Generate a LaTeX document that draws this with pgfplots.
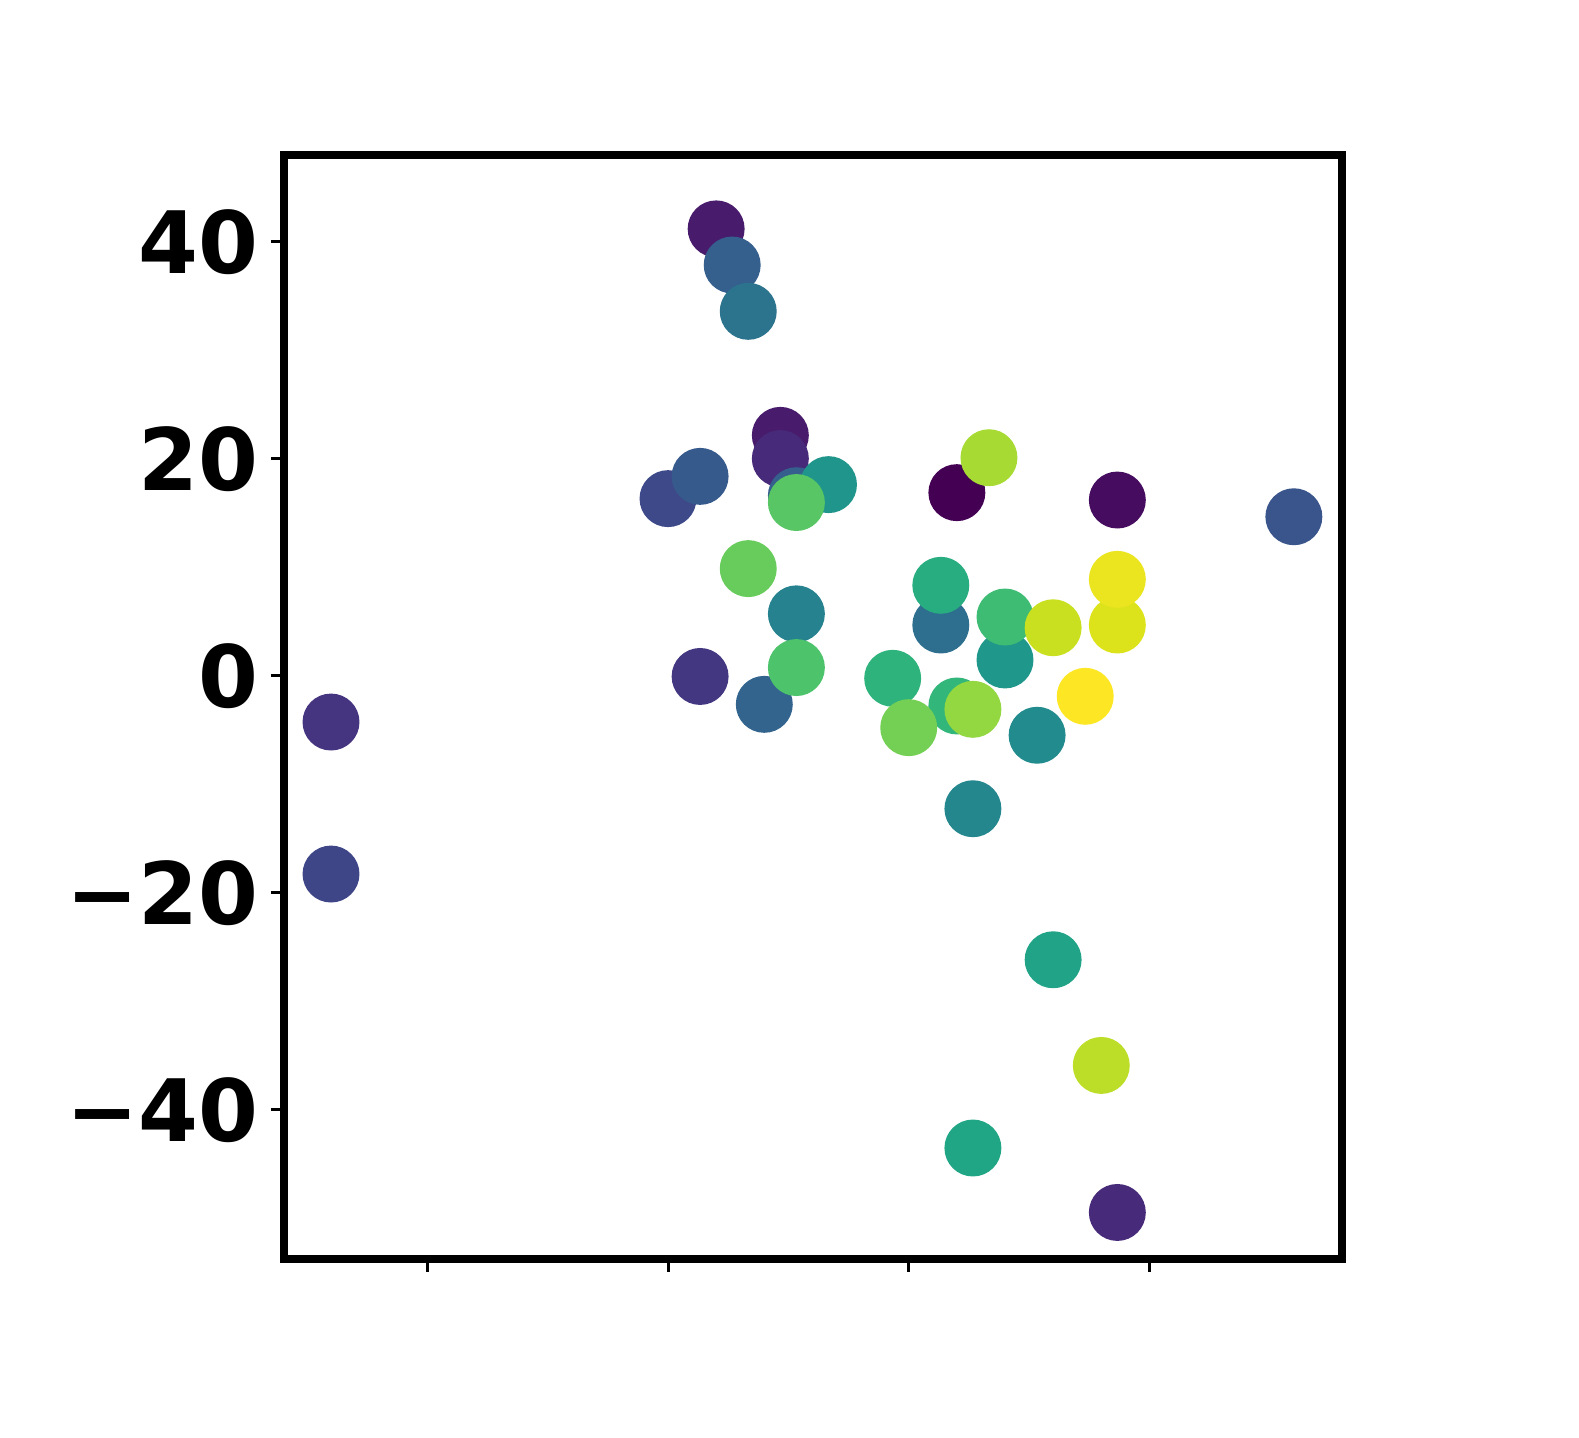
\documentclass[border=0pt]{standalone}
\usepackage{fontspec}
\setmainfont{DejaVu Sans}
\usepackage{pgfplots}
\pgfplotsset{compat=1.18}

\begin{document}
\begin{tikzpicture}
\begin{axis}[
  at={(0,0)}, anchor=south west,
  scale only axis, width=10.58cm, height=11.04cm,
  xmin=-8.93, xmax=57.0, ymin=-53.75, ymax=48.0,
  axis line style={line width=2pt},
  tick align=outside, xtick pos=left, ytick pos=left,
  major tick length=3.7pt,
  every tick/.style={black, line width=0.85pt},
  xtick={0,15,30,45}, xticklabels={,,,},
  ytick={-40,-20,0,20,40}, yticklabels={−40,−20,0,20,40},
  yticklabel style={font=\fontsize{24.5}{29}\selectfont\bfseries, inner sep=0pt, xshift=-3.3pt},
  colormap/viridis,
  point meta min=0, point meta max=1,
]
% x y colour value (viridis 0..1), in drawing order
\addplot[scatter, only marks, mark=*, mark size=7.9pt, scatter src=explicit,
  scatter/use mapped color={draw=mapped color, fill=mapped color}]
  table[meta=c] {
x y c
18 41.19 0.07
19 37.86 0.30
20 33.59 0.38
22 22.16 0.07
22 20.02 0.12
15 16.33 0.22
17 18.38 0.28
23 16.60 0.30
25 17.62 0.52
23 15.97 0.74
20 9.88 0.77
23 5.71 0.44
17 -0.06 0.16
21 -2.63 0.32
23 0.76 0.72
-6 -4.26 0.15
-6 -18.27 0.21
33 16.88 0.00
35 20.10 0.87
43 16.20 0.03
54 14.66 0.26
32 4.68 0.36
32 8.34 0.62
36 1.46 0.53
36 5.42 0.69
39 4.43 0.92
43 4.68 0.95
43 8.89 0.97
29 -0.23 0.65
33 -2.78 0.66
30 -4.78 0.79
34 -3.09 0.84
41 -1.89 1.00
38 -5.48 0.48
34 -12.25 0.46
39 -26.17 0.58
42 -35.91 0.90
34 -43.52 0.59
43 -49.46 0.12
};
\end{axis}
\path[use as bounding box] (-2.84cm,-1.78cm) rectangle (12.95cm,12.59cm);
\end{tikzpicture}
\end{document}
